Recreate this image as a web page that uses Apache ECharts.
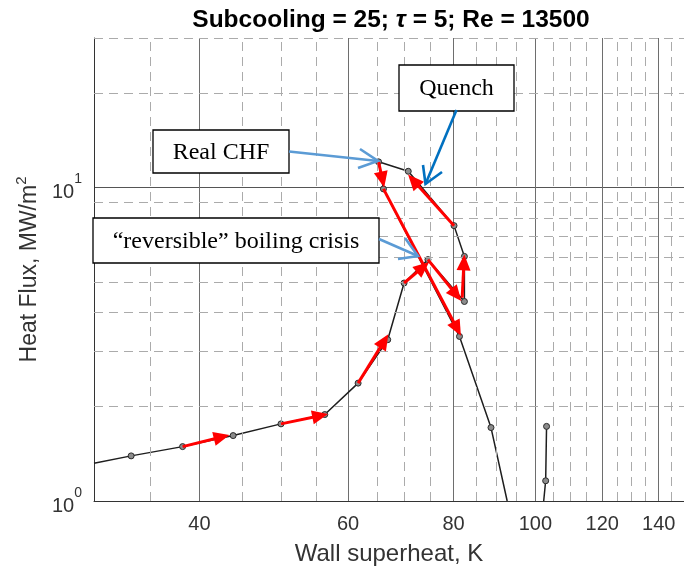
<!DOCTYPE html>
<html>
<head>
<meta charset="utf-8">
<script src="https://cdn.jsdelivr.net/npm/echarts@6/dist/echarts.min.js"></script>
<style>html,body{margin:0;padding:0;background:#fff}#c{width:684px;height:573px}</style>
</head>
<body>
<div id="c"></div>
<script>
// Boiling curve (wall superheat K, heat flux MW/m2), in time order
const curveX = [30, 33.2, 38.2, 43.85, 49.96, 56.3, 61.66, 66.85, 69.9, 74.6, 82.4, 82.4, 80.1, 70.7, 65.2, 66.07, 81.3, 88.6, 92.6];
const curveY = [1.32, 1.393, 1.491, 1.617, 1.762, 1.887, 2.377, 3.27, 4.96, 5.89, 4.33, 6.03, 7.56, 11.27, 12.08, 9.9, 3.35, 1.715, 1.0];
const curveMarked = [0, 1, 1, 1, 1, 1, 1, 1, 1, 1, 1, 1, 1, 1, 1, 1, 1, 1, 0];
// second visible piece (curve returns above 1 MW/m2)
const tailX = [102.3, 102.85, 103.1];
const tailY = [1.0, 1.16, 1.73];
const tailMarked = [0, 1, 1];

// red path arrows: start and arrow-head centre
const arrowFromX = [38.2, 49.96, 61.66, 69.9, 74.6, 81.9, 80.1, 65.2, 66.07];
const arrowFromY = [1.491, 1.762, 2.377, 4.96, 5.89, 4.45, 7.56, 12.08, 9.9];
const arrowToX = [42.5, 55.6, 66.2, 73.6, 80.6, 82.3, 71.7, 65.9, 80.8];
const arrowToY = [1.601, 1.871, 3.24, 5.57, 4.55, 5.77, 10.53, 10.6, 3.544];

// ticks and grid
const xMajor = [40, 60, 80, 100, 120, 140];
const xMinor = [35, 45, 50, 55, 65, 70, 75, 85, 90, 95, 105, 110, 115, 125, 130, 135, 145];
const yMajor = [1, 10];
const yMinor = [2, 3, 4, 5, 6, 7, 8, 9, 20, 30];

const xName = 'Wall superheat, K';
const yName = 'Heat Flux, MW/m';

function mk(xs, ys, marked) {
  return xs.map((x, i) => marked[i] ? [x, ys[i]] : { value: [x, ys[i]], symbol: 'none' });
}

const SANS = '"Liberation Sans", Arial, sans-serif';
const SERIF = '"Liberation Serif", "Times New Roman", serif';

const chart = echarts.init(document.getElementById('c'), null, { renderer: 'canvas' });

const curveStyle = {
  type: 'line', z: 3, silent: true, animation: false, clip: true,
  lineStyle: { color: '#1e1e1e', width: 1.5 },
  symbol: 'circle', symbolSize: 6, showAllSymbol: true,
  itemStyle: { color: '#8c8c8c', borderColor: '#2a2a2a', borderWidth: 1 },
  emphasis: { disabled: true }
};

function box(x, y, w, h, text) {
  return [
    { type: 'rect', z: 100, silent: true,
      shape: { x: x, y: y, width: w, height: h },
      style: { fill: '#fff', stroke: '#000', lineWidth: 1.3 } },
    { type: 'text', z: 101, silent: true, x: x + w / 2, y: y + h / 2 + 1,
      style: { text: text, font: '24px ' + SERIF, fill: '#000',
               align: 'center', verticalAlign: 'middle',
               textAlign: 'center', textVerticalAlign: 'middle' } }
  ];
}
function arrow(x1, y1, x2, y2, w1, w2, color) {
  return [
    { type: 'line', z: 100, silent: true, shape: { x1: x1, y1: y1, x2: x2, y2: y2 },
      style: { stroke: color, lineWidth: 2.6 } },
    { type: 'polyline', z: 100, silent: true, shape: { points: [w1, [x2, y2], w2] },
      style: { stroke: color, lineWidth: 2.6, fill: null } }
  ];
}

chart.setOption({
  backgroundColor: '#fff',
  animation: false,
  title: {
    text: '{n|Subcooling = 25; }{t|τ}{n| = 5; Re = 13500}',
    left: 386, top: 3, textAlign: 'center',
    textStyle: {
      rich: {
        n: { fontFamily: SANS, fontWeight: 'bold', fontSize: 24.5, color: '#000' },
        t: { fontFamily: SANS, fontWeight: 'bold', fontStyle: 'italic', fontSize: 24.5, color: '#000' }
      }
    }
  },
  grid: { left: 94, top: 38, width: 594, height: 463, containLabel: false },
  xAxis: {
    type: 'log', logBase: 10, min: 30, max: 150,
    axisLine: { show: true, onZero: false, lineStyle: { color: '#333', width: 1 } },
    axisTick: { show: false, customValues: xMajor },
    axisLabel: { customValues: xMajor, fontFamily: SANS, fontSize: 20, color: '#333', margin: 13 },
    splitLine: { show: true, lineStyle: { color: '#6e6e6e', width: 1 } },
    name: xName, nameLocation: 'middle', nameGap: 41,
    nameTextStyle: { fontFamily: SANS, fontSize: 24, color: '#333' }
  },
  yAxis: {
    type: 'log', logBase: 10, min: 1, max: 30,
    axisLine: { show: true, onZero: false, lineStyle: { color: '#333', width: 1 } },
    axisTick: { show: false, customValues: yMajor },
    axisLabel: {
      customValues: yMajor, margin: 12,
      formatter: v => '{b|10}{s|' + Math.round(Math.log10(v)) + '}',
      rich: {
        b: { fontFamily: SANS, fontSize: 20, color: '#333', lineHeight: 30, verticalAlign: 'bottom' },
        s: { fontFamily: SANS, fontSize: 14, color: '#333', lineHeight: 14, verticalAlign: 'top' }
      }
    },
    splitLine: { show: true, lineStyle: { color: '#555', width: 1 } },
    name: '{a|' + yName + '}{s|2}', nameLocation: 'middle', nameGap: 48, nameRotate: 90,
    nameTextStyle: {
      rich: {
        a: { fontFamily: SANS, fontSize: 23, color: '#333', lineHeight: 30 },
        s: { fontFamily: SANS, fontSize: 15, color: '#333', lineHeight: 15, verticalAlign: 'top' }
      }
    }
  },
  series: [
    {
      type: 'line', data: [], z: 1, silent: true,
      markLine: {
        silent: true, animation: false, symbol: ['none', 'none'],
        label: { show: false },
        lineStyle: { type: [9, 6], color: '#ababab', width: 1 },
        emphasis: { disabled: true },
        data: xMinor.map(v => ({ xAxis: v })).concat(yMinor.map(v => ({ yAxis: v })))
      }
    },
    Object.assign({ data: mk(curveX, curveY, curveMarked) }, curveStyle),
    Object.assign({ data: mk(tailX, tailY, tailMarked) }, curveStyle),
    {
      type: 'lines', coordinateSystem: 'cartesian2d', z: 5, silent: true, animation: false,
      symbol: ['none', 'triangle'], symbolSize: [0, [14, 16]],
      lineStyle: { color: '#ff0000', width: 3, opacity: 1 },
      data: arrowFromX.map((x, i) => ({ coords: [[x, arrowFromY[i]], [arrowToX[i], arrowToY[i]]] }))
    }
  ],
  graphic: [].concat(
    box(153, 130, 136, 43, 'Real CHF'),
    box(399, 65, 115, 46, 'Quench'),
    box(93, 218, 286, 45, '“reversible” boiling crisis'),
    arrow(289, 151.5, 378, 161, [360, 149], [358, 168], '#5b9bd5'),
    arrow(456.5, 110, 425.5, 184, [423, 165], [442, 172], '#0070c0'),
    arrow(379, 239, 418, 256, [405, 238], [398, 259], '#5b9bd5')
  )
});
</script>
</body>
</html>
